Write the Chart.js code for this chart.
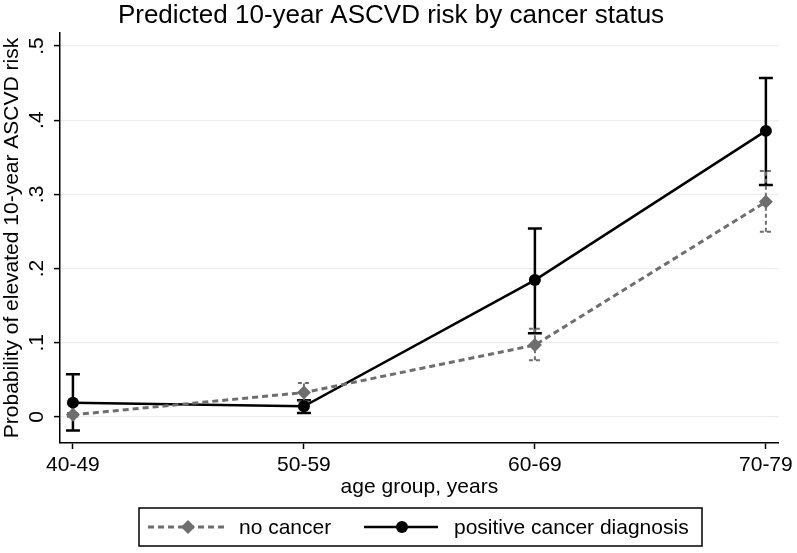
<!DOCTYPE html>
<html><head><meta charset="utf-8">
<script src="https://cdn.jsdelivr.net/npm/chart.js@4.4.1/dist/chart.umd.min.js"></script>
<style>html,body{margin:0;padding:0;background:#fff}canvas{display:block}</style>
</head><body>
<canvas id="c" width="797" height="553"></canvas>
<script>
const categories = ['40-49', '50-59', '60-69', '70-79'];
const yTickValues = [0, 0.1, 0.2, 0.3, 0.4, 0.5];
const yTickLabels = ['0', '.1', '.2', '.3', '.4', '.5'];
const seriesNames = ['no cancer', 'positive cancer diagnosis'];
const noCancer = [0.003, 0.033, 0.097, 0.290];
const noCancerLow = [0.0005, 0.021, 0.0765, 0.2497];
const noCancerHigh = [0.0055, 0.046, 0.119, 0.3316];
const cancer = [0.0194, 0.0144, 0.1845, 0.3856];
const cancerLow = [-0.018, 0.0054, 0.113, 0.3127];
const cancerHigh = [0.0576, 0.0225, 0.254, 0.4567];

const GRAY = '#6e6e6e';
const FONT = 'Liberation Sans, Arial, sans-serif';

const pts = arr => arr.map((v, i) => ({x: i, y: v}));

const errorBars = {
  id: 'errorBars',
  beforeDatasetsDraw(chart) {
    const {ctx, scales: {x, y}} = chart;
    const draw = (lo, hi, color, width, cap, dash) => {
      ctx.save();
      ctx.strokeStyle = color;
      ctx.lineWidth = width;
      ctx.setLineDash(dash);
      lo.forEach((l, i) => {
        const px = x.getPixelForValue(i);
        const yl = y.getPixelForValue(l);
        const yh = y.getPixelForValue(hi[i]);
        ctx.beginPath();
        ctx.moveTo(px, yl); ctx.lineTo(px, yh);
        ctx.moveTo(px - cap, yl); ctx.lineTo(px + cap, yl);
        ctx.moveTo(px - cap, yh); ctx.lineTo(px + cap, yh);
        ctx.stroke();
      });
      ctx.restore();
    };
    draw(cancerLow, cancerHigh, '#000', 2.5, 7, []);
    draw(noCancerLow, noCancerHigh, GRAY, 2, 6, [4, 3]);
  }
};

const stataLegend = {
  id: 'stataLegend',
  afterDraw(chart) {
    const ctx = chart.ctx;
    const top = 508, bottom = 546, left = 139, right = 702;
    const cy = (top + bottom) / 2;
    ctx.save();
    ctx.strokeStyle = '#000';
    ctx.lineWidth = 1.5;
    ctx.strokeRect(left, top, right - left, bottom - top);
    ctx.strokeStyle = GRAY; ctx.lineWidth = 3; ctx.setLineDash([6, 4]);
    ctx.beginPath(); ctx.moveTo(148, cy); ctx.lineTo(227, cy); ctx.stroke();
    ctx.setLineDash([]);
    ctx.fillStyle = GRAY;
    ctx.beginPath(); ctx.moveTo(188, cy - 7); ctx.lineTo(195, cy); ctx.lineTo(188, cy + 7); ctx.lineTo(181, cy); ctx.closePath(); ctx.fill();
    ctx.strokeStyle = '#000'; ctx.lineWidth = 2.5;
    ctx.beginPath(); ctx.moveTo(364, cy); ctx.lineTo(438, cy); ctx.stroke();
    ctx.fillStyle = '#000';
    ctx.beginPath(); ctx.arc(402, cy, 6, 0, Math.PI * 2); ctx.fill();
    ctx.font = '21px ' + FONT;
    ctx.textBaseline = 'middle';
    ctx.textAlign = 'left';
    ctx.fillText(seriesNames[0], 239, cy + 1);
    ctx.fillText(seriesNames[1], 454, cy + 1);
    ctx.restore();
  }
};

new Chart(document.getElementById('c'), {
  type: 'line',
  data: {
    datasets: [
      {label: seriesNames[0], data: pts(noCancer), borderColor: GRAY, backgroundColor: GRAY,
       borderWidth: 3, borderDash: [6, 4], pointStyle: 'rectRot', pointRadius: 7, pointBorderWidth: 0,
       pointBackgroundColor: GRAY, tension: 0},
      {label: seriesNames[1], data: pts(cancer), borderColor: '#000', backgroundColor: '#000',
       borderWidth: 2.5, pointStyle: 'circle', pointRadius: 6, pointBorderWidth: 0,
       pointBackgroundColor: '#000', tension: 0}
    ]
  },
  plugins: [errorBars, stataLegend],
  options: {
    responsive: false,
    animation: false,
    layout: {padding: {left: 0, right: 15, top: 0, bottom: 53}},
    plugins: {
      legend: {display: false},
      tooltip: {enabled: false},
      title: {display: true, text: 'Predicted 10-year ASCVD risk by cancer status',
              color: '#000', font: {family: FONT, size: 26, weight: 'normal', lineHeight: 1.2},
              padding: {top: 0, bottom: 1.8}}
    },
    scales: {
      x: {
        type: 'linear', min: -0.056, max: 3.056,
        afterBuildTicks: s => { s.ticks = categories.map((c, i) => ({value: i})); },
        afterFit: s => { s.height = 57; },
        ticks: {callback: v => categories[v], color: '#000', font: {family: FONT, size: 21},
                padding: 4, maxRotation: 0, minRotation: 0},
        grid: {drawOnChartArea: false, tickColor: '#000', tickLength: 6, tickWidth: 1.5},
        border: {display: true, color: '#000', width: 1.5},
        title: {display: true, text: 'age group, years', color: '#000',
                font: {family: FONT, size: 21}, padding: {top: 0, bottom: 0}}
      },
      y: {
        type: 'linear', min: -0.035, max: 0.5175,
        afterBuildTicks: s => { s.ticks = yTickValues.map(v => ({value: v})); },
        afterFit: s => { s.width = 60; },
        ticks: {callback: (v) => yTickLabels[yTickValues.findIndex(t => Math.abs(t - v) < 1e-9)],
                color: '#000', font: {family: FONT, size: 21}, padding: 8,
                minRotation: 90, maxRotation: 90, crossAlign: 'center'},
        grid: {color: '#e6eff2', lineWidth: 1.2, tickColor: '#000', tickLength: 6, tickWidth: 1.5},
        border: {display: true, color: '#000', width: 1.5},
        title: {display: true, text: 'Probability of elevated 10-year ASCVD risk', color: '#000',
                font: {family: FONT, size: 21}, padding: {top: 0, bottom: 0}}
      }
    }
  }
});
</script>
</body></html>
